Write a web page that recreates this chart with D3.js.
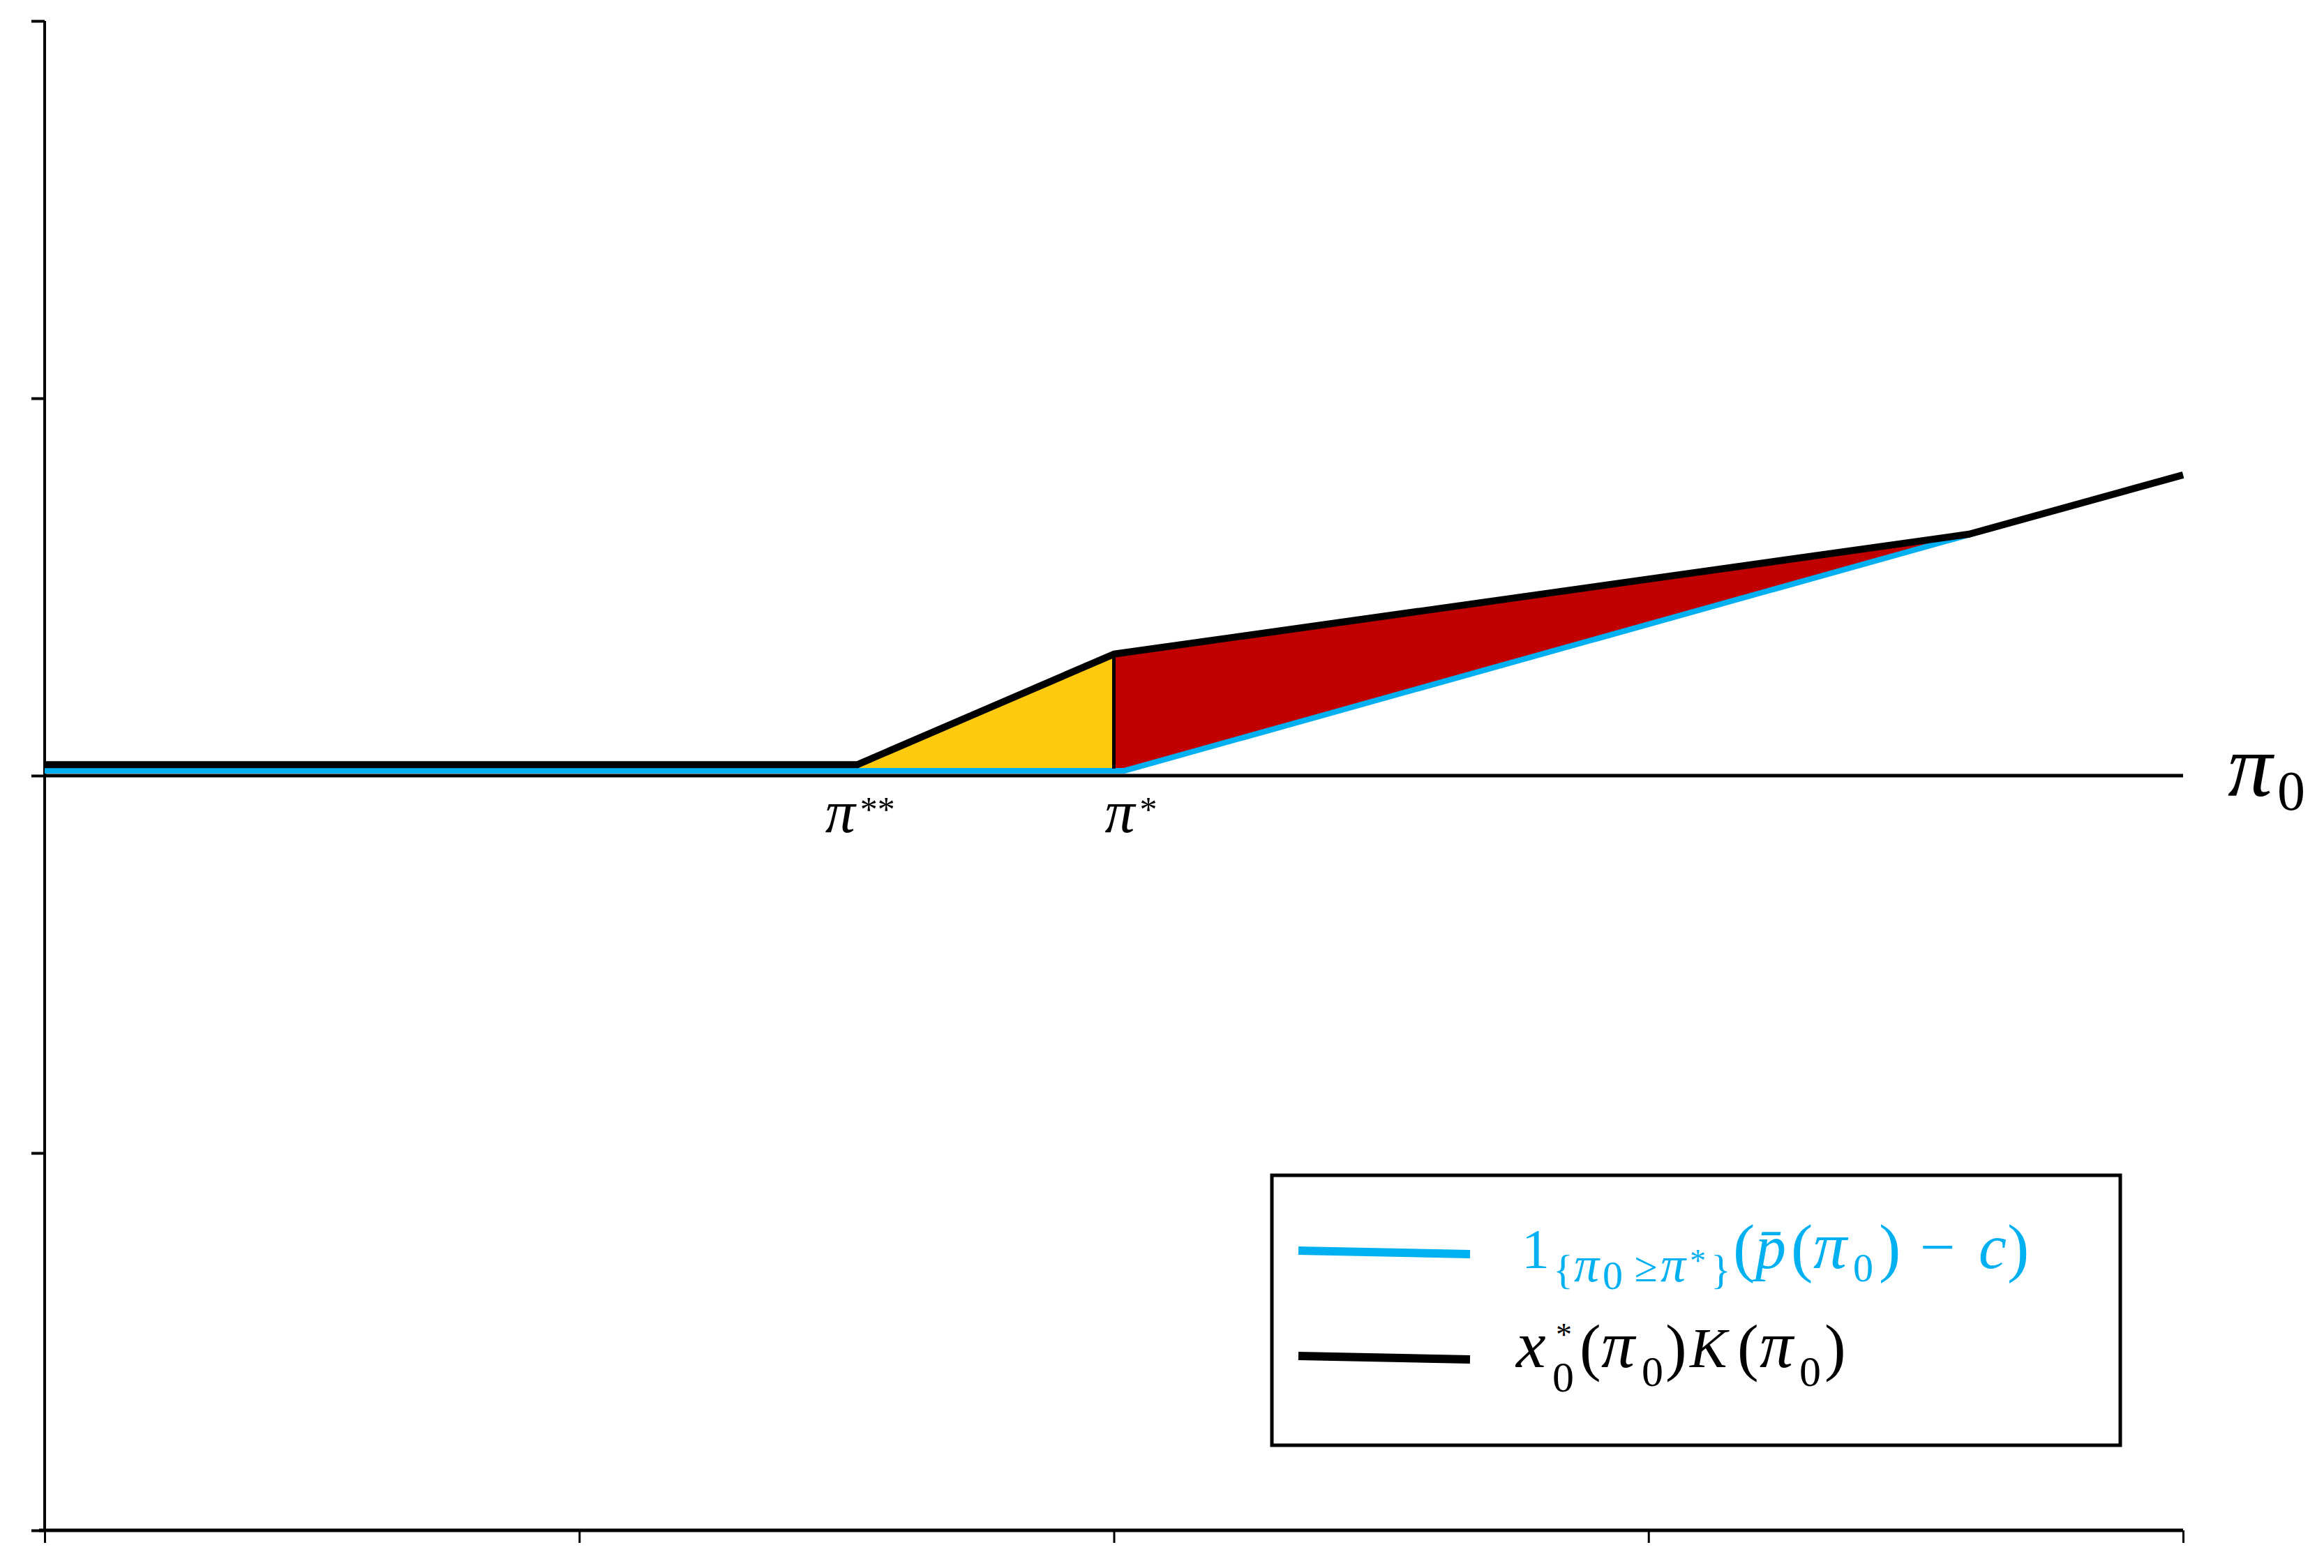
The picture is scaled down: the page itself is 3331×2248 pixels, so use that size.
<!DOCTYPE html>
<html>
<head>
<meta charset="utf-8">
<script src="https://cdn.jsdelivr.net/npm/d3@7"></script>
<style>
  html, body { margin: 0; padding: 0; background: #fff; }
  svg { display: block; }
  text { font-family: "Liberation Serif", "DejaVu Serif", serif; }
</style>
</head>
<body>
<svg id="chart" width="3331" height="2248"></svg>
<script>
// ---- data ----
const xTicks = [0, 1, 2, 3, 4];
const yTicks = [-2, -1, 0, 1, 2];
// black series: x0*(pi0) K(pi0)
const blackX = [0, 1.52, 2.0, 3.6, 4.0];
const blackY = [0.029, 0.029, 0.322, 0.640, 0.797];
// blue series: 1{pi0 >= pi*}(p(pi0) - c)
const blueX = [0, 2.02, 4.0];
const blueY = [0.013, 0.013, 0.797];
// special points on the pi0 axis
const markX = [1.52, 2.0];
const markLabels = ["**", "*"];
const colors = { blue: "#00B0F0", black: "#000000", yellow: "#FFC90E", red: "#C00000" };

// ---- setup ----
const svg = d3.select("#chart");
const x = d3.scaleLinear().domain([0, 4]).range([64, 3129]);
const y = d3.scaleLinear().domain([-2, 2]).range([2194, 30]);

const black = blackX.map((v, i) => [v, blackY[i]]);
const blue = blueX.map((v, i) => [v, blueY[i]]);
const line = d3.line().x(d => x(d[0])).y(d => y(d[1]));
const blueAt = xv => blueY[1] + (xv - blueX[1]) * (blueY[2] - blueY[1]) / (blueX[2] - blueX[1]);

// ---- filled regions ----
const yellowPoly = [black[1], black[2], [blackX[2], blueY[1]], [blackX[1], blueY[0]]];
svg.append("path").attr("d", line(yellowPoly) + "Z").attr("fill", colors.yellow);
const redPoly = [black[2], black[3], [blackX[3], blueAt(blackX[3])], blue[1], [blackX[2], blueY[1]]];
svg.append("path").attr("d", line(redPoly) + "Z").attr("fill", colors.red);

// ---- axes ----
const yAxis = svg.append("g").attr("transform", `translate(${x(0)},0)`)
  .call(d3.axisLeft(y).tickValues(yTicks).tickSize(19).tickFormat(""));
yAxis.select(".domain").attr("stroke", "#000").attr("stroke-width", 4).attr("d", `M0,${y(2)}V${y(-2)}`);
yAxis.selectAll(".tick line").attr("stroke", "#000").attr("stroke-width", 4);

const xAxis = svg.append("g").attr("transform", `translate(0,${y(-2)})`)
  .call(d3.axisBottom(x).tickValues(xTicks).tickSize(18).tickFormat(""));
xAxis.select(".domain").attr("stroke", "#000").attr("stroke-width", 5).attr("d", `M${x(0) - 8},0H${x(4)}`);
xAxis.selectAll(".tick line").attr("stroke", "#000").attr("stroke-width", 3);

// pi0 axis (zero line)
svg.append("line").attr("x1", x(0)).attr("x2", x(4)).attr("y1", y(0)).attr("y2", y(0))
  .attr("stroke", "#000").attr("stroke-width", 5);

// ---- series lines ----
svg.append("path").attr("d", line(blue)).attr("fill", "none")
  .attr("stroke", colors.blue).attr("stroke-width", 8);
svg.append("path").attr("d", line(black)).attr("fill", "none")
  .attr("stroke", colors.black).attr("stroke-width", 10).attr("stroke-linejoin", "round");
// divider at pi*
svg.append("line").attr("x1", x(markX[1])).attr("x2", x(markX[1]))
  .attr("y1", y(blueY[1]) - 3).attr("y2", y(blackY[2]))
  .attr("stroke", "#000").attr("stroke-width", 5);

// ---- labels under the axis ----
const labelShift = [-46, -13];
markX.forEach((m, i) => {
  const x0 = x(m) + labelShift[i];
  const t = svg.append("text").attr("fill", "#000");
  t.append("tspan").attr("x", x0).attr("y", 1193).attr("font-size", 86).attr("font-style", "italic").text("π");
  t.append("tspan").attr("x", x0 + 50).attr("y", 1177).attr("font-size", 50).text(markLabels[i]);
});

// pi0 label
const p0 = svg.append("text").attr("fill", "#000");
p0.append("tspan").attr("x", 3193).attr("y", 1141).attr("font-size", 128).attr("font-style", "italic").text("π");
p0.append("tspan").attr("x", 3264).attr("y", 1161).attr("font-size", 80).text("0");

// ---- legend ----
const lg = svg.append("g");
lg.append("rect").attr("x", 1823).attr("y", 1685).attr("width", 1216).attr("height", 387)
  .attr("fill", "#fff").attr("stroke", "#000").attr("stroke-width", 5);
lg.append("line").attr("x1", 1861).attr("x2", 2107).attr("y1", 1793).attr("y2", 1798)
  .attr("stroke", colors.blue).attr("stroke-width", 12);
lg.append("line").attr("x1", 1861).attr("x2", 2107).attr("y1", 1944).attr("y2", 1949)
  .attr("stroke", colors.black).attr("stroke-width", 12);

// glyph pieces: [text, x, baseline y, size, italic]
const legendText1 = [
  ["1", 2181, 1818, 80, false],
  ["{", 2226, 1840, 60, false],
  ["π", 2256, 1837, 72, true],
  ["0", 2297, 1848, 58, false],
  ["≥", 2343, 1837, 60, false],
  ["π", 2380, 1837, 72, true],
  ["*", 2422, 1823, 46, false],
  ["}", 2452, 1840, 60, false],
  ["(", 2484, 1820, 94, false],
  ["p\u0304", 2516, 1818, 88, true],
  ["(", 2567, 1820, 94, false],
  ["π", 2599, 1818, 96, true],
  ["0", 2656, 1837, 58, false],
  [")", 2693, 1820, 94, false],
  ["−", 2752, 1818, 90, false],
  ["c", 2836, 1818, 90, true],
  [")", 2877, 1820, 94, false]
];
const legendText2 = [
  ["x", 2173, 1960, 96, true],
  ["*", 2230, 1929, 46, false],
  ["0", 2225, 1995, 62, false],
  ["(", 2264, 1962, 92, false],
  ["π", 2295, 1960, 96, true],
  ["0", 2353, 1987, 62, false],
  [")", 2387, 1962, 92, false],
  ["K", 2422, 1960, 80, true],
  ["(", 2490, 1962, 92, false],
  ["π", 2522, 1960, 96, true],
  ["0", 2579, 1987, 62, false],
  [")", 2615, 1962, 92, false]
];
[[legendText1, colors.blue], [legendText2, colors.black]].forEach(([pieces, col]) => {
  const t = lg.append("text").attr("fill", col);
  pieces.forEach(([s, px, py, fs, it]) => {
    t.append("tspan").attr("x", px).attr("y", py).attr("font-size", fs)
      .attr("font-style", it ? "italic" : "normal").text(s);
  });
});
</script>
</body>
</html>
